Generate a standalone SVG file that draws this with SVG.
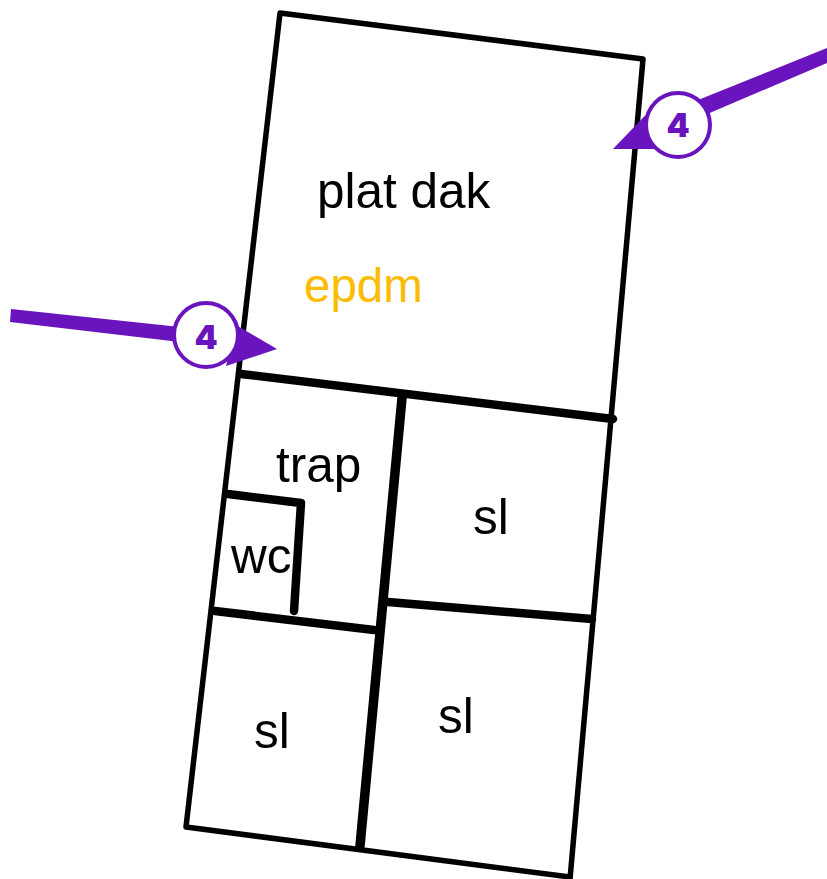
<svg xmlns="http://www.w3.org/2000/svg" width="827" height="879" viewBox="0 0 827 879">
<style>
.wall{fill:none;stroke:#000;stroke-linecap:round;stroke-linejoin:round}
.t{font-family:"Liberation Sans",Arial,sans-serif;font-size:49.5px;fill:#000}
.ar{fill:#6a14bd}
.c{fill:#fff;stroke:#6a14bd;stroke-width:4}
.n{font-family:"Inter","Liberation Sans",sans-serif;font-size:33px;font-weight:900;fill:#6a14bd;text-anchor:middle}
</style>
<rect width="827" height="879" fill="#fff"/>
<g id="plan">
<path class="wall" stroke-width="5.5" d="M280 13L643 59L570 879M280 13L186 827L570 877"/>
<path class="wall" stroke-width="8.5" d="M241 374L613 419M215 611L374 630M388 602L592 619M228 494L301 503L294 611"/>
<path class="wall" stroke-width="9.5" d="M402 398L360 846"/>
</g>
<g id="labels">
<text class="t" x="317" y="208">plat dak</text>
<text class="t" x="304" y="302" style="fill:#fbbc04;font-size:47.5px">epdm</text>
<text class="t" x="276" y="482">trap</text>
<text class="t" x="231" y="573">wc</text>
<text class="t" x="473" y="534">sl</text>
<text class="t" x="438" y="733">sl</text>
<text class="t" x="254" y="748">sl</text>
</g>
<g id="connectors">
<polygon class="ar" points="827,48 827,63 705,115 698,100"/>
<polygon class="ar" points="660,100 613,149 665,149"/>
<polygon class="ar" points="11,309 10,322 180,342 180,327"/>
<polygon class="ar" points="236,325 277,349 226,366"/>
</g>
<g id="badge-top">
<circle class="c" cx="678" cy="125" r="32"/>
<text class="n" x="678" y="137">4</text>
</g>
<g id="badge-left">
<circle class="c" cx="206" cy="335" r="32"/>
<text class="n" x="206" y="349">4</text>
</g>
</svg>
